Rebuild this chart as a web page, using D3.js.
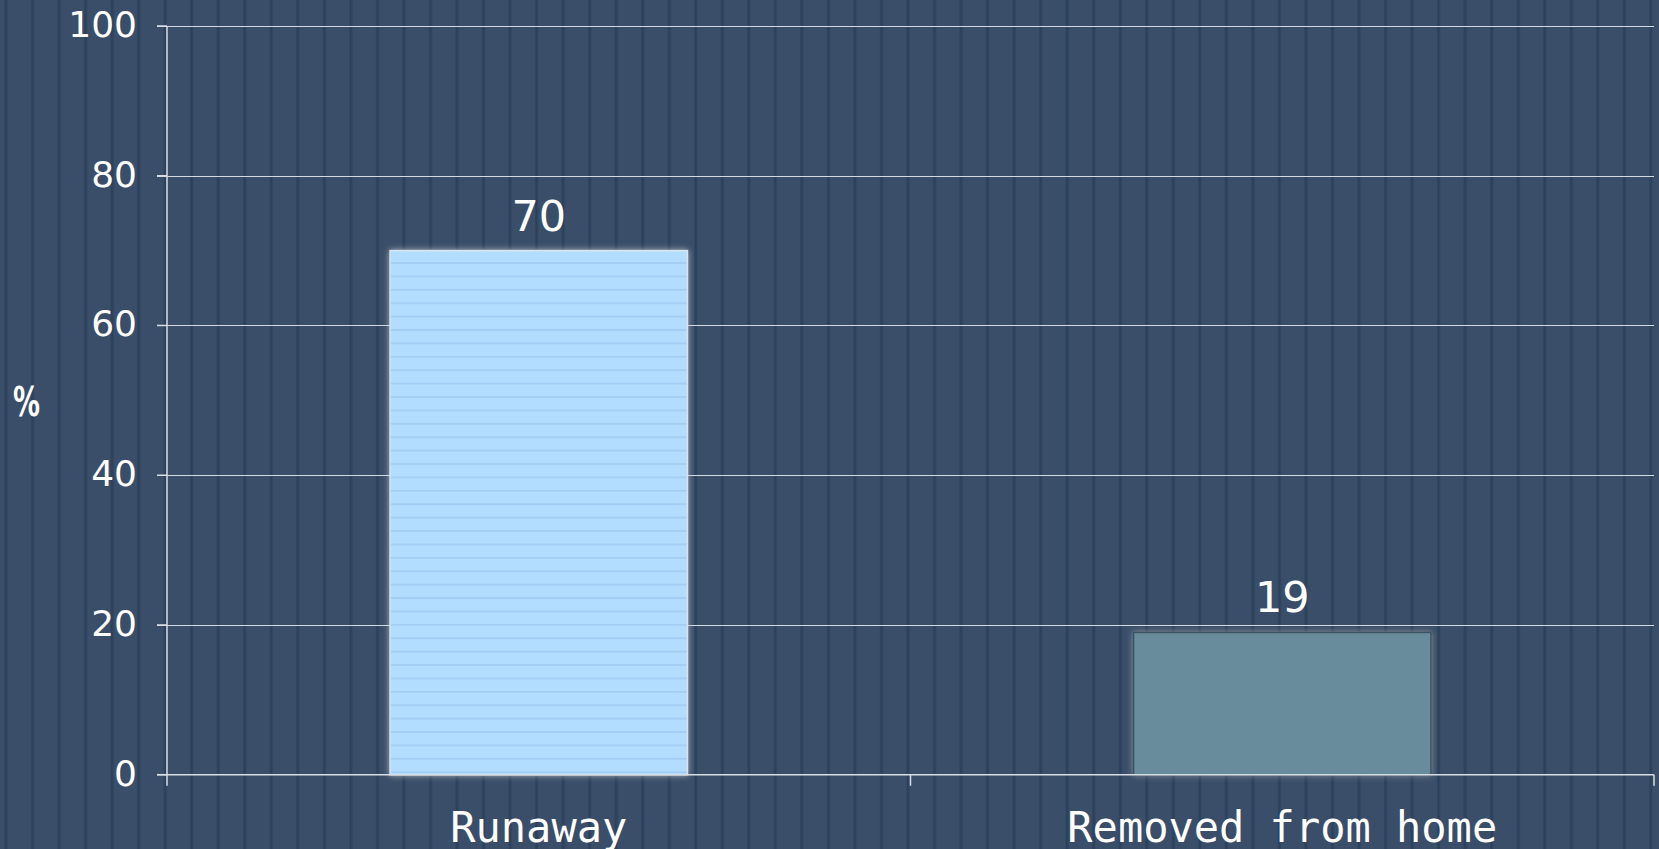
<!DOCTYPE html>
<html><head><meta charset="utf-8">
<script src="https://cdn.jsdelivr.net/npm/d3@7"></script>
<style>html,body{margin:0;padding:0;background:#394d68;overflow:hidden}</style>
</head><body>
<svg id="c" width="1659" height="849"></svg>
<script>
const categories = ["Runaway", "Removed from home"];
const values = [70, 19];
const yTicks = [0, 20, 40, 60, 80, 100];
const yLabel = "%";
const barFills = ["#b3ddff", "#688c9c"];

const W = 1659, H = 849;
const m = {left: 167, right: 5, top: 26, bottom: 74.3};
const svg = d3.select("#c");
const defs = svg.append("defs");

// background stripes
const pat = defs.append("pattern").attr("id","stripes").attr("patternUnits","userSpaceOnUse")
  .attr("width",26.53).attr("height",10).attr("x",4.3);
pat.append("rect").attr("width",26.53).attr("height",10).attr("fill","#3a4e69");
pat.append("rect").attr("x",0).attr("width",3.4).attr("height",10).attr("fill","#304560");
pat.append("rect").attr("x",0.9).attr("width",1.6).attr("height",10).attr("fill","#2b405b");
svg.append("rect").attr("width",W).attr("height",H).attr("fill","url(#stripes)");

// bar stripe pattern for first bar
const bp = defs.append("pattern").attr("id","barlines").attr("patternUnits","userSpaceOnUse")
  .attr("width",10).attr("height",13.4).attr("y",250.6);
bp.append("rect").attr("width",10).attr("height",13.4).attr("fill",barFills[0]);
bp.append("rect").attr("y",11.6).attr("width",10).attr("height",1.6).attr("fill","#a0ccf2");

const glow = defs.append("filter").attr("id","glow").attr("x","-10%").attr("y","-10%").attr("width","120%").attr("height","120%");
glow.append("feGaussianBlur").attr("in","SourceAlpha").attr("stdDeviation",3).attr("result","b");
glow.append("feFlood").attr("flood-color","#c8ccd0").attr("flood-opacity",0.8);
glow.append("feComposite").attr("in2","b").attr("operator","in").attr("result","g");
const mg = glow.append("feMerge");
mg.append("feMergeNode").attr("in","g");
mg.append("feMergeNode").attr("in","SourceGraphic");

const glow2 = defs.append("filter").attr("id","glow2").attr("x","-10%").attr("y","-10%").attr("width","120%").attr("height","120%");
glow2.append("feGaussianBlur").attr("in","SourceAlpha").attr("stdDeviation",3).attr("result","b");
glow2.append("feFlood").attr("flood-color","#9aa0a6").attr("flood-opacity",0.8);
glow2.append("feComposite").attr("in2","b").attr("operator","in").attr("result","g");
const mg2 = glow2.append("feMerge");
mg2.append("feMergeNode").attr("in","g");
mg2.append("feMergeNode").attr("in","SourceGraphic");

const x = d3.scaleBand().domain(categories).range([m.left, W - m.right])
  .paddingInner(0.6).paddingOuter(0.3);
const xb = d3.scaleBand().domain(categories).range([m.left, W - m.right]).padding(0);
const y = d3.scaleLinear().domain([0,100]).range([H - m.bottom, m.top]);

const tickLeft = 157;
// gridlines
svg.append("g").selectAll("line").data(yTicks.filter(d=>d>0)).join("line")
  .attr("x1",tickLeft).attr("x2",W - m.right)
  .attr("y1",d=>Math.round(y(d))+0.5).attr("y2",d=>Math.round(y(d))+0.5)
  .attr("stroke","#d4dae2").attr("stroke-width",1);

// bars
svg.append("g").selectAll("rect").data(values).join("rect")
  .attr("x",(d,i)=>x(categories[i]))
  .attr("y",d=>y(d))
  .attr("width",x.bandwidth())
  .attr("height",d=>y(0)-y(d))
  .attr("fill",(d,i)=> i===0 ? "url(#barlines)" : barFills[i])
  .attr("stroke",(d,i)=> i===0 ? "#d8e4ee" : "#3b5260")
  .attr("stroke-width",1.5)
  .attr("filter",(d,i)=> i===0 ? "url(#glow)" : "url(#glow2)");

// axes
const ax = svg.append("g").attr("stroke","#d8dde4").attr("stroke-width",1.5).attr("fill","none");
ax.append("line").attr("x1",m.left).attr("x2",m.left).attr("y1",y(100)).attr("y2",y(0)+11);
ax.append("line").attr("x1",tickLeft).attr("x2",W - m.right).attr("y1",y(0)).attr("y2",y(0));
ax.selectAll("line.t").data(yTicks).join("line").attr("class","t")
  .attr("x1",tickLeft).attr("x2",m.left).attr("y1",d=>y(d)).attr("y2",d=>y(d));
const bounds = categories.map(c=>xb(c)+xb.bandwidth());
ax.selectAll("line.b").data(bounds).join("line").attr("class","b")
  .attr("x1",d=>d).attr("x2",d=>d).attr("y1",y(0)).attr("y2",y(0)+11);

// y tick labels
svg.append("g").selectAll("text").data(yTicks).join("text")
  .attr("x",137).attr("y",d=>y(d)).attr("dy","0.3em")
  .attr("text-anchor","end").attr("fill","#ffffff")
  .attr("font-family","DejaVu Sans").attr("font-size",36)
  .text(d=>d);

// y label
svg.append("text").attr("x",13).attr("y",402).attr("dy","0.36em")
  .attr("text-anchor","start").attr("fill","#ffffff").attr("font-weight","bold")
  .attr("font-family","DejaVu Sans").attr("font-size",40).attr("textLength",27).attr("lengthAdjust","spacingAndGlyphs").text(yLabel);

// value labels
svg.append("g").selectAll("text").data(values).join("text")
  .attr("x",(d,i)=>x(categories[i])+x.bandwidth()/2)
  .attr("y",d=>y(d)-20)
  .attr("text-anchor","middle").attr("fill","#ffffff")
  .attr("font-family","DejaVu Sans").attr("font-size",43)
  .text(d=>d);

// category labels
svg.append("g").selectAll("text").data(categories).join("text")
  .attr("x",d=>x(d)+x.bandwidth()/2)
  .attr("y",842)
  .attr("text-anchor","middle").attr("fill","#ffffff")
  .attr("font-family","DejaVu Sans Mono").attr("font-size",42)
  .text(d=>d);
</script>
</body></html>
